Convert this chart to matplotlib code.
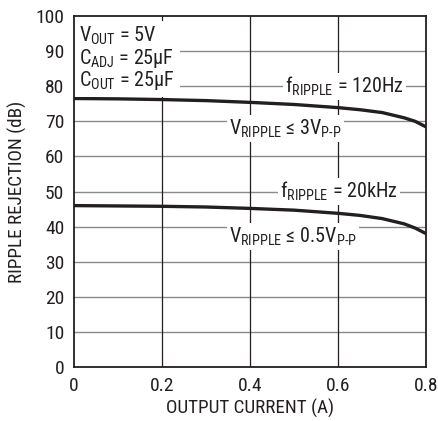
import matplotlib
matplotlib.use("Agg")
import matplotlib.pyplot as plt
from matplotlib import font_manager

# narrow sans for the whole chart, first one that is installed
installed = {f.name for f in font_manager.fontManager.ttflist}
narrow = next((n for n in ('Roboto Condensed', 'Archivo Narrow', 'PT Sans Narrow',
                           'Liberation Sans Narrow') if n in installed), 'DejaVu Sans')

plt.rcParams['font.family'] = [narrow, 'DejaVu Sans']
plt.rcParams['mathtext.fontset'] = 'custom'
plt.rcParams['mathtext.rm'] = narrow
plt.rcParams['mathtext.it'] = narrow
plt.rcParams['mathtext.default'] = 'rm'

INK = '#231f20'

# load current (A) vs ripple rejection (dB)
current = [0.0, 0.1, 0.2, 0.3, 0.4, 0.5, 0.6, 0.65, 0.7, 0.75, 0.775, 0.8]
rej_120hz = [76.5, 76.4, 76.2, 75.9, 75.4, 74.8, 73.9, 73.3, 72.5, 71.0, 70.0, 68.4]
rej_20khz = [46.0, 45.9, 45.8, 45.6, 45.2, 44.7, 43.8, 43.2, 42.3, 40.8, 39.6, 38.0]

x_ticks = [0, 0.2, 0.4, 0.6, 0.8]
x_tick_labels = ['0', '0.2', '0.4', '0.6', '0.8']
y_ticks = list(range(0, 101, 10))

fig = plt.figure(figsize=(4.38, 4.21), dpi=100)
ax = fig.add_axes([0.169, 0.128, 0.804, 0.834])

for y in y_ticks[1:-1]:
    ax.axhline(y, color='#8a8a8a', lw=1.0, zorder=1)
for x in x_ticks[1:-1]:
    ax.axvline(x, color=INK, lw=0.9, zorder=1)

ax.plot(current, rej_120hz, color=INK, lw=2.4, solid_capstyle='butt', zorder=3)
ax.plot(current, rej_20khz, color=INK, lw=2.4, solid_capstyle='butt', zorder=3)

ax.set_xlim(0, 0.8)
ax.set_ylim(0, 100)
ax.set_xticks(x_ticks)
ax.set_xticklabels(x_tick_labels)
ax.set_yticks(y_ticks)
ax.tick_params(length=0, labelsize=14, colors=INK, pad=7)
for s in ax.spines.values():
    s.set_color(INK)
    s.set_linewidth(1.3)
    s.set_zorder(5)

ax.set_xlabel('OUTPUT CURRENT (A)', fontsize=13.8, color=INK, labelpad=3)
ax.set_ylabel('RIPPLE REJECTION (dB)', fontsize=13.8, color=INK, labelpad=6)

box = dict(facecolor='white', edgecolor='none', pad=1.5)
lbl = dict(fontsize=14.5, color=INK, zorder=4, bbox=box)

ax.text(0.012, 87.9,
        'V$_{OUT}$ = 5V\nC$_{ADJ}$ = 25µF\nC$_{OUT}$ = 25µF',
        ha='left', va='center', linespacing=0.95,
        **dict(lbl, bbox=dict(facecolor='white', edgecolor='none', pad=3.5)))

ax.text(0.614, 80.0, 'f$_{RIPPLE}$ = 120Hz', ha='center', va='center', **lbl)
ax.text(0.48, 68.0, 'V$_{RIPPLE}$ ≤ 3V$_{P\\text{-}P}$', ha='center', va='center', **lbl)
ax.text(0.602, 50.0, 'f$_{RIPPLE}$ = 20kHz', ha='center', va='center', **lbl)
ax.text(0.497, 37.2, 'V$_{RIPPLE}$ ≤ 0.5V$_{P\\text{-}P}$', ha='center', va='center', **lbl)

fig.savefig('out.png', dpi=100)
